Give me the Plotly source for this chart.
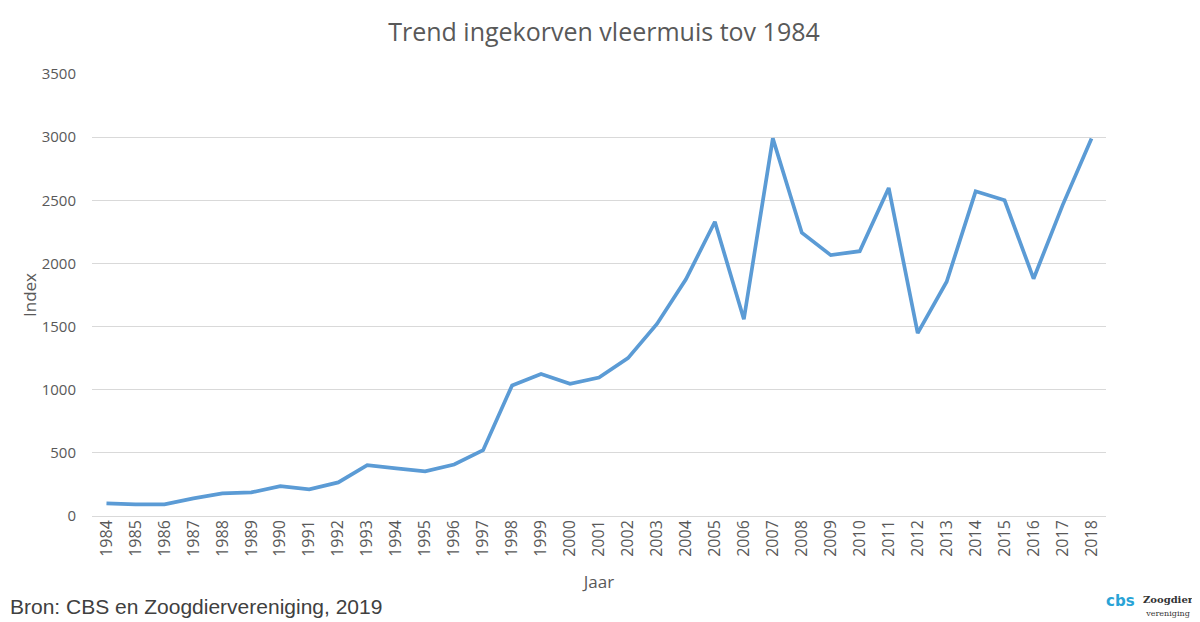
import plotly.graph_objects as go

# Jaren (categorieen) en indexwaarden
jaren = [str(j) for j in range(1984, 2019)]
index = [100, 92, 92, 140, 179, 187, 237, 211, 266, 403, 377, 353, 408, 521,
         1034, 1124, 1047, 1097, 1250, 1521, 1874, 2330, 1558, 2990,
         2243, 2066, 2097, 2598, 1448, 1855, 2571, 2500, 1879, 2460, 2990]

y_ticks = [0, 500, 1000, 1500, 2000, 2500, 3000, 3500]

titel = "Trend ingekorven vleermuis tov 1984"
bron = "Bron: CBS en Zoogdiervereniging, 2019"

grey = "#595959"

# de pagina heeft 8px body-marge, dus figuur iets kleiner
W, H = 1192, 614
L, R, T, B = 84, 94, 66, 106
pw, ph = W - L - R, H - T - B

fig = go.Figure()
fig.add_trace(
    go.Scatter(
        x=jaren,
        y=index,
        mode="lines",
        line=dict(color="#5B9BD5", width=3.7),
        showlegend=False,
    )
)

fig.update_layout(
    width=W,
    height=H,
    margin=dict(l=L, r=R, t=T, b=B),
    paper_bgcolor="white",
    plot_bgcolor="white",
    font=dict(family="Open Sans, Calibri, sans-serif", color=grey, size=15),
    title=dict(
        text=titel,
        x=0.5,
        xanchor="center",
        y=1 - 24 / H,
        yanchor="middle",
        font=dict(size=25, color=grey),
    ),
    xaxis=dict(
        type="category",
        range=[-0.5, len(jaren) - 0.5],
        tickangle=-90,
        showgrid=False,
        showline=False,
        ticks="",
        tickfont=dict(size=16, color=grey),
        title=dict(text="Jaar", font=dict(size=17, color=grey), standoff=20),
    ),
    yaxis=dict(
        range=[0, 3500],
        tickvals=y_ticks,
        showgrid=True,
        gridcolor="#D9D9D9",
        gridwidth=1,
        zeroline=True,
        zerolinecolor="#D9D9D9",
        zerolinewidth=1,
        ticks="outside",
        ticklen=12,
        tickcolor="white",
        tickfont=dict(size=15, color=grey),
        title=dict(text="Index", font=dict(size=17, color=grey), standoff=0),
    ),
)

# bronvermelding linksonder
fig.add_annotation(
    text=bron,
    xref="paper", yref="paper",
    x=-L / pw, y=-90 / ph,
    xanchor="left", yanchor="middle",
    showarrow=False,
    font=dict(family="Arial, Liberation Sans, sans-serif", size=21, color="#404040"),
)

# logo's rechtsonder (als tekst)
fig.add_annotation(
    text="<b>cbs</b>",
    xref="paper", yref="paper",
    x=(1112 - L) / pw, y=-85 / ph,
    xanchor="center", yanchor="middle",
    showarrow=False,
    font=dict(family="DejaVu Sans", size=15, color="#29A3D6"),
)
fig.add_annotation(
    text="<b>Zoogdier</b><br><span style='font-size:8px'>vereniging</span>",
    xref="paper", yref="paper",
    x=(1160 - L) / pw, y=-90 / ph,
    xanchor="center", yanchor="middle",
    showarrow=False,
    font=dict(family="DejaVu Serif", size=10, color="#333333"),
)

fig.write_html("out.html")
